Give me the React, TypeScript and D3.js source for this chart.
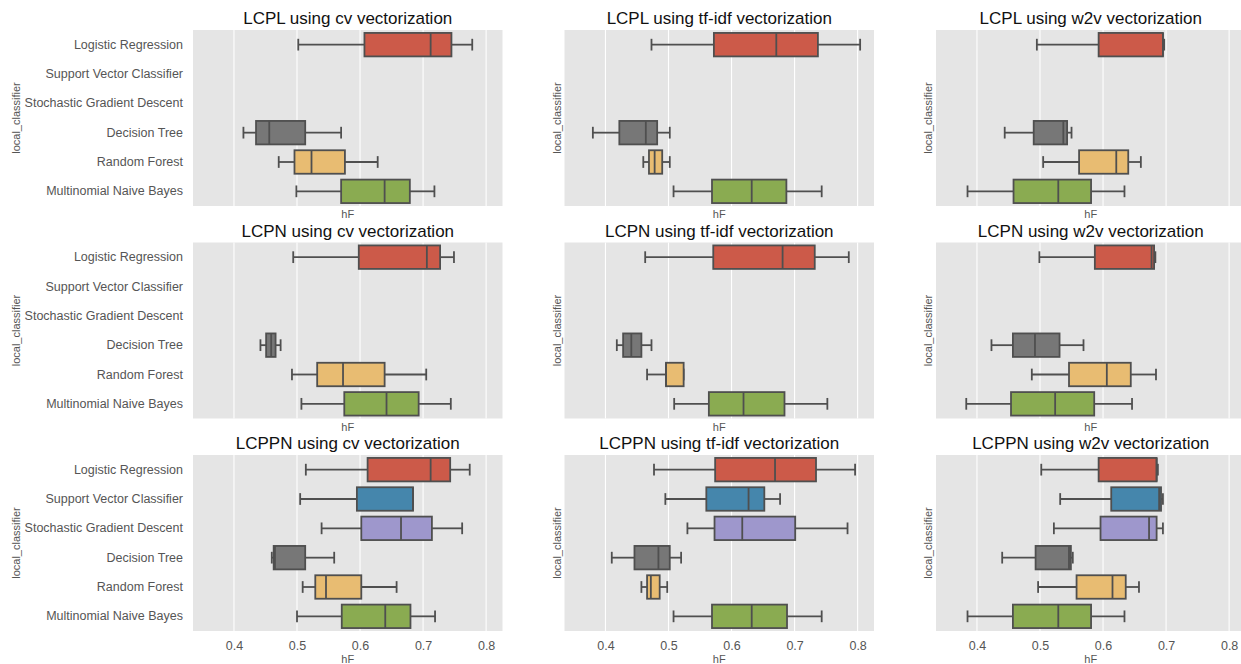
import { useEffect, useRef } from 'react';
import * as d3 from 'd3';

const classifiers = [
  'Logistic Regression',
  'Support Vector Classifier',
  'Stochastic Gradient Descent',
  'Decision Tree',
  'Random Forest',
  'Multinomial Naive Bayes',
];
const boxColors = ['#cc5a49', '#4586ac', '#9e97cc', '#777777', '#e8bc72', '#8aab51'];
const xTicks = [0.4, 0.5, 0.6, 0.7, 0.8];

// [whisker low, q1, median, q3, whisker high] per classifier, null when not run
type Stats = number[] | null;
const lcplCv: Stats[] = [
  [0.502, 0.607, 0.712, 0.745, 0.778], null, null,
  [0.415, 0.435, 0.456, 0.513, 0.570],
  [0.471, 0.496, 0.523, 0.576, 0.628],
  [0.499, 0.570, 0.639, 0.679, 0.718],
];
const lcplTfidf: Stats[] = [
  [0.473, 0.572, 0.671, 0.737, 0.804], null, null,
  [0.380, 0.422, 0.464, 0.482, 0.502],
  [0.460, 0.469, 0.478, 0.490, 0.502],
  [0.508, 0.569, 0.632, 0.687, 0.743],
];
const lcplW2v: Stats[] = [
  [0.495, 0.593, 0.695, 0.695, 0.697], null, null,
  [0.444, 0.490, 0.537, 0.543, 0.550],
  [0.505, 0.562, 0.621, 0.640, 0.660],
  [0.385, 0.458, 0.529, 0.581, 0.634],
];
const lcpnCv: Stats[] = [
  [0.494, 0.598, 0.706, 0.727, 0.749], null, null,
  [0.442, 0.451, 0.459, 0.466, 0.474],
  [0.492, 0.532, 0.573, 0.639, 0.705],
  [0.507, 0.575, 0.642, 0.693, 0.744],
];
const lcpnTfidf: Stats[] = [
  [0.463, 0.571, 0.681, 0.732, 0.786], null, null,
  [0.418, 0.428, 0.441, 0.457, 0.473],
  [0.466, 0.496, 0.496, 0.524, 0.524],
  [0.509, 0.564, 0.619, 0.684, 0.752],
];
const lcpnW2v: Stats[] = [
  [0.499, 0.587, 0.677, 0.681, 0.683], null, null,
  [0.423, 0.457, 0.492, 0.531, 0.569],
  [0.487, 0.546, 0.606, 0.644, 0.684],
  [0.383, 0.454, 0.524, 0.586, 0.646],
];
const lcppnCv: Stats[] = [
  [0.514, 0.612, 0.712, 0.743, 0.774],
  [0.505, 0.595, 0.684, 0.684, 0.684],
  [0.539, 0.602, 0.665, 0.714, 0.762],
  [0.460, 0.463, 0.465, 0.513, 0.559],
  [0.509, 0.529, 0.546, 0.602, 0.658],
  [0.500, 0.571, 0.640, 0.680, 0.719],
];
const lcppnTfidf: Stats[] = [
  [0.477, 0.574, 0.669, 0.734, 0.796],
  [0.495, 0.560, 0.627, 0.652, 0.677],
  [0.530, 0.573, 0.617, 0.701, 0.784],
  [0.410, 0.446, 0.484, 0.502, 0.520],
  [0.457, 0.466, 0.472, 0.486, 0.498],
  [0.508, 0.569, 0.632, 0.688, 0.743],
];
const lcppnW2v: Stats[] = [
  [0.502, 0.593, 0.685, 0.685, 0.687],
  [0.532, 0.613, 0.689, 0.692, 0.695],
  [0.522, 0.596, 0.673, 0.685, 0.695],
  [0.440, 0.493, 0.546, 0.549, 0.552],
  [0.497, 0.558, 0.615, 0.636, 0.657],
  [0.385, 0.457, 0.529, 0.581, 0.634],
];

const panels = [
  { title: 'LCPL using cv vectorization', stats: lcplCv },
  { title: 'LCPL using tf-idf vectorization', stats: lcplTfidf },
  { title: 'LCPL using w2v vectorization', stats: lcplW2v },
  { title: 'LCPN using cv vectorization', stats: lcpnCv },
  { title: 'LCPN using tf-idf vectorization', stats: lcpnTfidf },
  { title: 'LCPN using w2v vectorization', stats: lcpnW2v },
  { title: 'LCPPN using cv vectorization', stats: lcppnCv },
  { title: 'LCPPN using tf-idf vectorization', stats: lcppnTfidf },
  { title: 'LCPPN using w2v vectorization', stats: lcppnW2v },
];

const FONT = '"Liberation Sans", Arial, sans-serif';
const LINE = '#4f4f4f';

const BoxGrid = () => {
  const svgRef = useRef<SVGSVGElement>(null);

  useEffect(() => {
    const width = 1241;
    const height = 664;
    const colLeft = [193, 564.5, 936];
    const rowTop = [30, 242.5, 455];
    const plotW = 309.5;
    const plotH = 176;

    const svg = d3.select(svgRef.current)
      .attr('width', width)
      .attr('height', height)
      .style('font-family', FONT);
    svg.selectAll('*').remove();

    panels.forEach((p, i) => {
      const col = i % 3;
      const row = Math.floor(i / 3);
      const left = colLeft[col];
      const top = rowTop[row];

      const x = d3.scaleLinear().domain([0.335, 0.826]).range([0, plotW]);
      const y = d3.scaleBand().domain(classifiers).range([0, plotH]).padding(0);
      const boxH = y.bandwidth() * 0.8;
      const capH = boxH / 2;

      const g = svg.append('g').attr('transform', `translate(${left},${top})`);

      g.append('rect')
        .attr('width', plotW)
        .attr('height', plotH)
        .attr('fill', '#e5e5e5');

      g.selectAll('.grid')
        .data(xTicks)
        .enter().append('line')
        .attr('x1', d => x(d)).attr('x2', d => x(d))
        .attr('y1', 0).attr('y2', plotH)
        .attr('stroke', '#ffffff')
        .attr('stroke-width', 1.1);

      const boxes = g.selectAll('.box')
        .data(p.stats.map((s, k) => ({ s, k })).filter(d => d.s !== null))
        .enter().append('g')
        .attr('transform', d => `translate(0,${y(classifiers[d.k])! + y.bandwidth() / 2})`);

      // whiskers
      boxes.append('line')
        .attr('x1', d => x(d.s![0])).attr('x2', d => x(d.s![1]))
        .attr('stroke', LINE).attr('stroke-width', 1.8);
      boxes.append('line')
        .attr('x1', d => x(d.s![3])).attr('x2', d => x(d.s![4]))
        .attr('stroke', LINE).attr('stroke-width', 1.8);
      // caps
      boxes.append('line')
        .attr('x1', d => x(d.s![0])).attr('x2', d => x(d.s![0]))
        .attr('y1', -capH / 2).attr('y2', capH / 2)
        .attr('stroke', LINE).attr('stroke-width', 1.8);
      boxes.append('line')
        .attr('x1', d => x(d.s![4])).attr('x2', d => x(d.s![4]))
        .attr('y1', -capH / 2).attr('y2', capH / 2)
        .attr('stroke', LINE).attr('stroke-width', 1.8);
      // box
      boxes.append('rect')
        .attr('x', d => x(d.s![1]))
        .attr('width', d => Math.max(x(d.s![3]) - x(d.s![1]), 0.5))
        .attr('y', -boxH / 2)
        .attr('height', boxH)
        .attr('fill', d => boxColors[d.k])
        .attr('stroke', LINE).attr('stroke-width', 1.8);
      // median
      boxes.append('line')
        .attr('x1', d => x(d.s![2])).attr('x2', d => x(d.s![2]))
        .attr('y1', -boxH / 2).attr('y2', boxH / 2)
        .attr('stroke', LINE).attr('stroke-width', 1.8);

      // title
      g.append('text')
        .attr('x', plotW / 2)
        .attr('y', -6)
        .attr('text-anchor', 'middle')
        .attr('font-size', 17)
        .attr('fill', '#111111')
        .text(p.title);

      // y axis label
      g.append('text')
        .attr('transform', `translate(${col === 0 ? 20 - left : -4},${plotH / 2}) rotate(-90)`)
        .attr('text-anchor', 'middle')
        .attr('font-size', 11)
        .attr('fill', '#555555')
        .text('local_classifier');

      if (col === 0) {
        const ya = g.append('g').call(d3.axisLeft(y).tickSize(0).tickPadding(10));
        ya.select('.domain').remove();
        ya.selectAll('text')
          .attr('fill', '#555555')
          .attr('font-size', 12.5)
          .attr('font-family', FONT);
      }

      let labelY = plotH + 12;
      if (row === 2) {
        const xa = g.append('g')
          .attr('transform', `translate(0,${plotH})`)
          .call(d3.axisBottom(x).tickValues(xTicks).tickFormat(d3.format('.1f')).tickSize(0).tickPadding(10));
        xa.select('.domain').remove();
        xa.selectAll('text')
          .attr('fill', '#555555')
          .attr('font-size', 12.5)
          .attr('font-family', FONT);
        labelY = plotH + 32;
      }

      g.append('text')
        .attr('x', plotW / 2)
        .attr('y', labelY)
        .attr('text-anchor', 'middle')
        .attr('font-size', 11)
        .attr('fill', '#555555')
        .text('hF');
    });
  }, []);

  return <svg ref={svgRef} style={{ position: 'absolute', left: 0, top: 0 }}></svg>;
};

export default function App() {
  return <BoxGrid />;
}
